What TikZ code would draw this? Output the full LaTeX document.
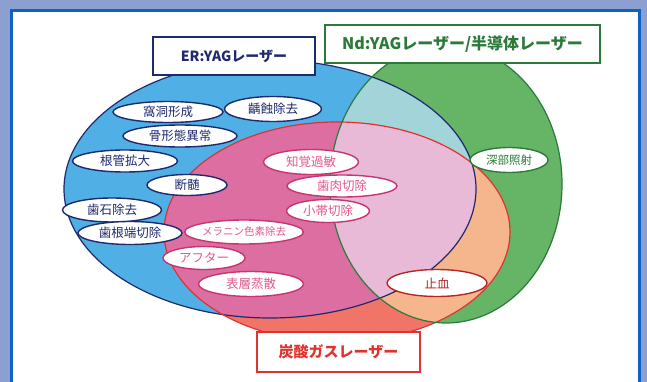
\documentclass[tikz,border=0pt]{standalone}
\usepackage{fontspec}
\usetikzlibrary{shapes.geometric}
\newfontfamily\jp{Noto Sans CJK JP}
\definecolor{bgout}{HTML}{8B9FD1}
\definecolor{panelline}{HTML}{1260C0}
\definecolor{cblue}{HTML}{50B0E6}
\definecolor{cred}{HTML}{F07468}
\definecolor{cgreen}{HTML}{66B466}
\definecolor{cbr}{HTML}{DC6EA2}
\definecolor{cbg}{HTML}{A2D4DA}
\definecolor{crg}{HTML}{F5B68E}
\definecolor{call}{HTML}{E8BAD8}
\definecolor{navy}{HTML}{1E2A6E}
\definecolor{dred}{HTML}{E0322E}
\definecolor{dgreen}{HTML}{2C7A3A}
\definecolor{pinkline}{HTML}{C8346E}
\definecolor{pinktext}{HTML}{E2588C}
\tikzset{
  bluetag/.style={ellipse, draw=navy, line width=1.4pt, fill=white, inner sep=0pt, text=navy, font=\jp\fontsize{12.5}{12.5}\selectfont},
  pinktag/.style={ellipse, draw=pinkline, line width=1.4pt, fill=white, inner sep=0pt, text=pinktext, font=\jp\fontsize{12.5}{12.5}\selectfont},
  greentag/.style={ellipse, draw=dgreen, line width=1.4pt, fill=white, inner sep=0pt, text=dgreen, font=\jp\fontsize{11.5}{11.5}\selectfont},
  redtag/.style={ellipse, draw=dred!80!black, line width=1.4pt, fill=white, inner sep=0pt, text=dred!80!black, font=\jp\fontsize{12.5}{12.5}\selectfont},
  titlebox/.style={rectangle, line width=1.4pt, fill=white, inner sep=0pt}
}
\begin{document}
\begin{tikzpicture}[x=1pt,y=-1pt]
\useasboundingbox (0,0) rectangle (647,382);
\fill[bgout] (0,0) rectangle (647,382);
\filldraw[fill=white, draw=panelline, line width=3pt] (11.5,10.5) rectangle (639.5,400);
% main ellipses
\fill[cblue] (270,189) ellipse [x radius=206pt, y radius=129pt];
\fill[cred] (337,232) ellipse [x radius=173pt, y radius=110pt];
\fill[cgreen] (446,184) ellipse [x radius=116pt, y radius=139pt];
\begin{scope}
\clip (270,189) ellipse [x radius=206pt, y radius=129pt];
\fill[cbr] (337,232) ellipse [x radius=173pt, y radius=110pt];
\fill[cbg] (446,184) ellipse [x radius=116pt, y radius=139pt];
\end{scope}
\begin{scope}
\clip (337,232) ellipse [x radius=173pt, y radius=110pt];
\fill[crg] (446,184) ellipse [x radius=116pt, y radius=139pt];
\end{scope}
\begin{scope}
\clip (270,189) ellipse [x radius=206pt, y radius=129pt];
\clip (337,232) ellipse [x radius=173pt, y radius=110pt];
\fill[call] (446,184) ellipse [x radius=116pt, y radius=139pt];
\end{scope}
\draw[navy, line width=1.2pt] (270,189) ellipse [x radius=206pt, y radius=129pt];
\draw[dred, line width=1.2pt] (337,232) ellipse [x radius=173pt, y radius=110pt];
\draw[dgreen, line width=1.2pt] (446,184) ellipse [x radius=116pt, y radius=139pt];
% titles
\node[titlebox, draw=navy, text=navy, minimum width=162pt, minimum height=38pt, font=\jp\bfseries\fontsize{14}{14}\selectfont] (er) at (234,56) {ER:YAGレーザー};
\node[titlebox, draw=dgreen, text=dgreen, minimum width=275pt, minimum height=38pt, font=\jp\bfseries\fontsize{16}{16}\selectfont] (nd) at (462.5,44) {Nd:YAGレーザー/半導体レーザー};
\node[titlebox, draw=dred, text=dred, minimum width=163pt, minimum height=40pt, font=\jp\bfseries\fontsize{15}{15}\selectfont] (co) at (338.5,352) {炭酸ガスレーザー};
% blue tags
\node[bluetag, minimum width=110pt, minimum height=21pt] (t1) at (168,112) {窩洞形成};
\node[bluetag, minimum width=97pt, minimum height=25pt] (t2) at (273,109) {齲蝕除去};
\node[bluetag, minimum width=114pt, minimum height=22pt] (t3) at (180,136) {骨形態異常};
\node[bluetag, minimum width=105pt, minimum height=22pt] (t4) at (125,161) {根管拡大};
\node[bluetag, minimum width=80pt, minimum height=21pt] (t5) at (187,185) {断髄};
\node[bluetag, minimum width=99pt, minimum height=24pt] (t6) at (112,210) {歯石除去};
\node[bluetag, minimum width=104pt, minimum height=23pt] (t7) at (130,233) {歯根端切除};
% pink tags
\node[pinktag, minimum width=95pt, minimum height=25pt] (p1) at (311,162) {知覚過敏};
\node[pinktag, minimum width=110pt, minimum height=22pt] (p2) at (342,186) {歯肉切除};
\node[pinktag, minimum width=83pt, minimum height=23pt] (p3) at (328,211) {小帯切除};
\node[pinktag, minimum width=117pt, minimum height=24pt, font=\jp\fontsize{10.5}{10.5}\selectfont] (p4) at (244,232) {メラニン色素除去};
\node[pinktag, minimum width=82pt, minimum height=23pt] (p5) at (204,258) {アフター};
\node[pinktag, minimum width=105pt, minimum height=25pt] (p6) at (251,284) {表層蒸散};
% green and red tags
\node[greentag, minimum width=78pt, minimum height=25pt] (g1) at (509,160) {深部照射};
\node[redtag, minimum width=100pt, minimum height=27pt] (r1) at (437,283) {止血};
\end{tikzpicture}
\end{document}
